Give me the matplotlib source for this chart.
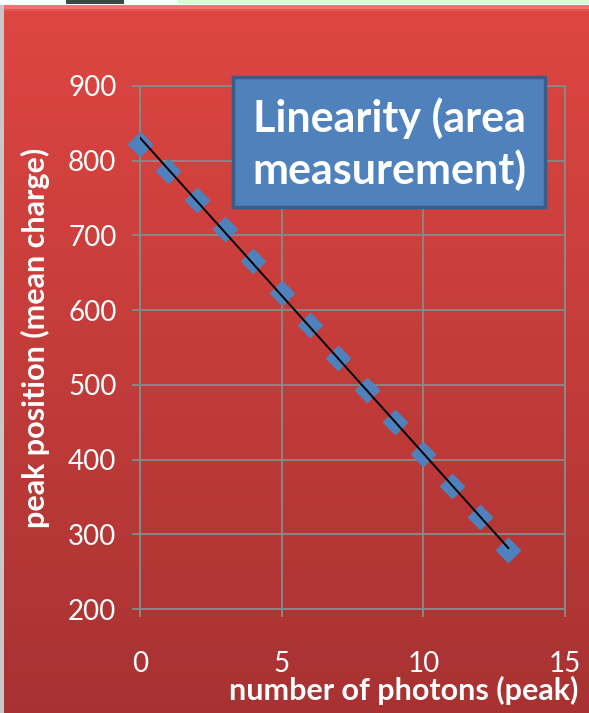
import numpy as np
import matplotlib
matplotlib.use("Agg")
import matplotlib.pyplot as plt
from matplotlib.patches import Rectangle

# data
photons = [0, 1, 2, 3, 4, 5, 6, 7, 8, 9, 10, 11, 12, 13]
peak_pos = [822, 786, 747, 709, 666, 623, 580, 536, 493, 450, 407, 365, 323, 279]
x_ticks = [0, 5, 10, 15]
y_ticks = [200, 300, 400, 500, 600, 700, 800, 900]
title_text = "Linearity (area\nmeasurement)"
x_label = "number of photons (peak)"
y_label = "peak position (mean charge)"

W, H = 589, 713
fig = plt.figure(figsize=(W / 100, H / 100), dpi=100)
fig.patch.set_facecolor("white")

# background gradient
bg = fig.add_axes([0, 0, 1, 1], zorder=0)
bg.set_xlim(0, W)
bg.set_ylim(H, 0)
bg.axis("off")
top = np.array([222, 70, 66]) / 255
bot = np.array([168, 50, 50]) / 255
t = np.linspace(0, 1, 256)[:, None]
grad = (top[None, :] * (1 - t) + bot[None, :] * t)[:, None, :]
bg.imshow(grad, extent=[3, W, H, 5], aspect="auto", zorder=1)
bg.add_patch(Rectangle((3, 5), W, 5, color="#F47070", zorder=2, lw=0))
bg.add_patch(Rectangle((3, 9), W, 2, color="#E25555", zorder=2, lw=0))
bg.add_patch(Rectangle((0, 0), W, 5, color="white", zorder=3, lw=0))
bg.add_patch(Rectangle((66, 0), 58, 4, color="#444444", zorder=4, lw=0))
bg.add_patch(Rectangle((178, 0), W - 178, 4, color="#E2F4D2", zorder=4, lw=0))
bg.add_patch(Rectangle((0, 5), 4, H, color="#C8C8C8", zorder=3, lw=0))

# plot axes
ax = fig.add_axes([140 / W, 1 - 609 / H, (565 - 140) / W, (609 - 86) / H], zorder=2)
ax.patch.set_alpha(0)
ax.set_xlim(0, 15)
ax.set_ylim(200, 900)
ax.set_xticks(x_ticks)
ax.set_yticks(y_ticks)
grid_c = "#8A8A8A"
ax.grid(True, color=grid_c, lw=1.3)
for s in ax.spines.values():
    s.set_color(grid_c)
    s.set_linewidth(1.3)
ax.tick_params(axis="both", colors=grid_c, length=6, width=1.3, direction="out",
               labelcolor="white", labelsize=20)
ax.tick_params(axis="y", pad=11)
ax.tick_params(axis="x", pad=24)
for lab in ax.get_xticklabels() + ax.get_yticklabels():
    lab.set_fontfamily("Lato")

# data markers
ax.plot(photons, peak_pos, linestyle="none", marker="D", markersize=12.5,
        color="#4F81BD", zorder=3, clip_on=False)
# linear trendline
coef = np.polyfit(photons, peak_pos, 1)
xs = np.array([photons[0], photons[-1]])
ax.plot(xs, np.polyval(coef, xs), color="black", lw=1.4, zorder=4)

# title box
bx0, by0, bx1, by1 = 233, 77, 545, 207
bg2 = fig.add_axes([0, 0, 1, 1], zorder=5)
bg2.set_xlim(0, W)
bg2.set_ylim(H, 0)
bg2.axis("off")
bg2.add_patch(Rectangle((bx0, by0), bx1 - bx0, by1 - by0, facecolor="#4F81BD",
                        edgecolor="#385D8A", lw=2.5, zorder=5))
bg2.text((bx0 + bx1) / 2, (by0 + by1) / 2 + 2, title_text, ha="center", va="center",
         color="white", fontsize=31, fontweight="bold", family="Lato",
         linespacing=1.3, zorder=6)

# axis labels
fig.text(578 / W, 1 - 690 / H, x_label, ha="right", va="center", color="white",
         fontsize=22, fontweight="bold", family="Lato")
fig.text(35 / W, 1 - 338 / H, y_label, ha="center", va="center", rotation=90,
         color="white", fontsize=22, fontweight="bold", family="Lato")

fig.savefig("out.png", dpi=100)
